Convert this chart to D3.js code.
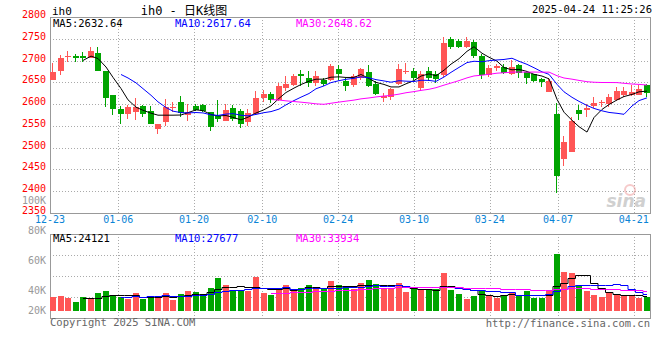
<!DOCTYPE html>
<html>
<head>
<meta charset="utf-8">
<script src="https://cdn.jsdelivr.net/npm/d3@7"></script>
<style>
  body { margin: 0; background: #fff; }
  svg text { font-family: "DejaVu Sans Mono", "Liberation Mono", monospace; font-size: 10px; }
</style>
</head>
<body>
<div id="app"></div>
<script>
// 日K数据 (12-23 ~ 04-23)
const opens  = [2655,2675,2708,2711,2711,2705,2718,2675,2620,2588, 2578,2582,2595,2584,2542,2558,2590,2605,2574,2595,
                2598,2582,2573,2562,2590,2584,2558,2578,2614,2623, 2610,2636,2645,2669,2660,2648,2656,2656,2680,2654,
                2645,2661,2673,2646,2613,2617,2646,2673,2677,2638, 2677,2668,2666,2750,2744,2730,2743,2711,2666,2683,
                2686,2668,2689,2673,2668,2658,2627,2577,2473,2490, 2586,2586,2595,2602,2600,2610,2622,2622,2622,2644];
const highs  = [2694,2712,2722,2715,2720,2732,2730,2677,2620,2595, 2598,2614,2598,2595,2554,2612,2605,2618,2600,2600,
                2600,2582,2610,2600,2599,2588,2588,2631,2633,2628, 2648,2664,2668,2679,2677,2677,2661,2692,2690,2661,
                2669,2683,2690,2652,2626,2637,2692,2694,2683,2675, 2685,2676,2753,2755,2750,2755,2748,2714,2690,2691,
                2691,2702,2691,2675,2670,2661,2661,2602,2527,2570, 2599,2600,2617,2609,2623,2639,2639,2645,2645,2646];
const lows   = [2655,2667,2696,2696,2696,2705,2676,2593,2575,2554, 2566,2563,2570,2555,2531,2550,2582,2570,2561,2584,
                2582,2539,2560,2561,2561,2546,2550,2576,2605,2603, 2606,2631,2641,2641,2639,2641,2641,2652,2656,2630,
                2639,2656,2639,2622,2605,2610,2645,2669,2655,2630, 2652,2648,2663,2727,2729,2729,2705,2658,2663,2675,
                2669,2666,2661,2646,2650,2640,2627,2395,2457,2489, 2563,2570,2592,2593,2593,2608,2617,2618,2620,2617];
const closes = [2673,2705,2711,2707,2705,2723,2677,2614,2588,2577, 2593,2593,2578,2555,2554,2593,2593,2580,2582,2586,
                2584,2548,2565,2586,2565,2555,2579,2613,2623,2610, 2641,2646,2664,2664,2648,2664,2646,2687,2668,2641,
                2664,2680,2641,2623,2618,2635,2680,2677,2660,2670, 2660,2658,2741,2730,2732,2745,2711,2666,2684,2687,
                2671,2686,2671,2660,2654,2651,2654,2436,2512,2561, 2578,2592,2603,2605,2617,2631,2631,2627,2635,2625];
const volumes = [23200,24900,21600,14900,23200,19400,29900,33200,26600,23200, 19900,29900,19900,24900,21600,29900,18300,28200,33200,31500,
                 28200,38200,54800,43200,34900,32700,33700,56900,29900,26600, 34900,43700,36500,38200,43200,36500,36500,49800,43200,38700,
                 36500,46500,51500,44800,36500,36500,46500,31500,36500,34900, 34900,36500,63100,34900,28200,19900,24900,34900,26600,21600,
                 24900,31500,24900,33200,21600,21600,33200,94600,64700,63100, 43200,33200,26600,23200,32000,28200,24900,24900,21600,23700];

// 刻度
const priceTicks = [2350,2400,2450,2500,2550,2600,2650,2700,2750,2800];
const dateLabels = ["12-23","01-06","01-20","02-10","02-24","03-10","03-24","04-07","04-21"];
const dateIndex  = [0,9,19,28,38,48,58,67,77];
const volLabels  = ["100K","80K","60K","40K","20K"];
const volLabelValues = [100000,80000,60000,40000,20000];

// 图例文字
const priceLegend = ["MA5:2632.64","MA10:2617.64","MA30:2648.62"];
const volLegend   = ["MA5:24121","MA10:27677","MA30:33934"];
const maPeriods   = [5,10,30];
const maColors    = ["#000","#00f","#f0f"];

const width = 660, height = 360,
      left = 50, right = 650,
      pTop = 17, pBottom = 213,
      vTop = 234, vBase = 311, vBottom = 318,
      red = "#ff5555", green = "#00a400", gridColor = "#aaa", axisColor = "#999";

const n = closes.length;

/* 比例尺 */
const xb = d3.scaleBand().domain(d3.range(n)).range([left, right]).paddingInner(0.2).paddingOuter(0);
const xg = d3.scaleLinear().domain([0, n - 1]).range([left, right - 1]);   // 日期网格
const yP = d3.scaleLinear().domain([2350, 2800]).range([pBottom, pTop]);
const yV = d3.scaleLinear().domain([0, 127800]).range([vBase, vTop]);
const yVLabel = d3.scaleLinear().domain([100000, 40000]).range([201, 291]);

const cx = i => Math.round(xb(i));
const bw = Math.round(xb.bandwidth());
const isUp = i => closes[i] >= opens[i];

function movingAvg(arr, p) {
  return arr.map((d, i) => i < p - 1 ? null : d3.mean(arr.slice(i - p + 1, i + 1)));
}

const svg = d3.select("#app").append("svg")
  .attr("width", width).attr("height", height)
  .style("display", "block");

/* 1. 网格 */
const grid = svg.append("g")
  .attr("stroke", gridColor).attr("stroke-dasharray", "1 2")
  .attr("shape-rendering", "crispEdges");

grid.selectAll("line.hp")
  .data(priceTicks.filter(v => v > 2350 && v < 2800))
  .enter().append("line")
  .attr("x1", left).attr("x2", right)
  .attr("y1", d => Math.round(yP(d)) + 0.5).attr("y2", d => Math.round(yP(d)) + 0.5);

const volGridY = d3.range(1, 4).map(k => Math.round(vTop + k * (vBottom - vTop) / 4) + 0.5);
grid.selectAll("line.hv")
  .data(volGridY)
  .enter().append("line")
  .attr("x1", left).attr("x2", right)
  .attr("y1", d => d).attr("y2", d => d);

dateIndex.slice(1).forEach(i => {
  const x = Math.round(xg(i)) + 0.5;
  grid.append("line").attr("x1", x).attr("x2", x).attr("y1", pTop).attr("y2", pBottom);
  grid.append("line").attr("x1", x).attr("x2", x).attr("y1", vTop).attr("y2", vBottom);
});

/* 2. 边框 */
const frame = svg.append("g").attr("fill", "none").attr("stroke", axisColor)
  .attr("shape-rendering", "crispEdges");
frame.append("rect").attr("x", left + 0.5).attr("y", pTop + 0.5)
  .attr("width", right - left).attr("height", pBottom - pTop);
frame.append("rect").attr("x", left + 0.5).attr("y", vTop + 0.5)
  .attr("width", right - left).attr("height", vBottom - vTop);

/* 3. 水印 */
const wm = svg.append("g").attr("opacity", 0.55);
wm.append("circle").attr("cx", 630).attr("cy", 190).attr("r", 5)
  .attr("fill", "none").attr("stroke", "#f0a0a0").attr("stroke-width", 2);
wm.append("text").attr("x", 646).attr("y", 207).attr("text-anchor", "end")
  .style("font-family", "DejaVu Sans").style("font-size", "17px")
  .style("font-style", "italic").style("font-weight", "bold")
  .attr("fill", "#aaa").text("sina");

/* 4. K线 */
const candles = svg.append("g").attr("shape-rendering", "crispEdges");
candles.selectAll("line")
  .data(d3.range(n))
  .enter().append("line")
  .attr("x1", i => cx(i) + 2.5).attr("x2", i => cx(i) + 2.5)
  .attr("y1", i => Math.round(yP(highs[i]))).attr("y2", i => Math.round(yP(lows[i])))
  .attr("stroke", i => isUp(i) ? red : green);
candles.selectAll("rect")
  .data(d3.range(n))
  .enter().append("rect")
  .attr("x", cx).attr("width", bw)
  .attr("y", i => Math.round(yP(Math.max(opens[i], closes[i]))))
  .attr("height", i => Math.max(1, Math.round(yP(Math.min(opens[i], closes[i]))) - Math.round(yP(Math.max(opens[i], closes[i])))))
  .attr("fill", i => isUp(i) ? red : green);

/* 5. 均线 */
maPeriods.forEach((p, k) => {
  const ma = movingAvg(closes, p);
  const line = d3.line()
    .defined(d => d[1] != null)
    .x(d => cx(d[0]) + 3)
    .y(d => yP(d[1]));
  svg.append("path")
    .datum(ma.map((v, i) => [i, v]))
    .attr("d", line)
    .attr("fill", "none").attr("stroke", maColors[k]).attr("stroke-width", 1);
});

/* 6. 成交量 */
svg.append("g").attr("shape-rendering", "crispEdges")
  .selectAll("rect")
  .data(d3.range(n))
  .enter().append("rect")
  .attr("x", cx).attr("width", bw)
  .attr("y", i => Math.round(yV(volumes[i])))
  .attr("height", i => vBase - Math.round(yV(volumes[i])))
  .attr("fill", i => isUp(i) ? red : green);

maPeriods.forEach((p, k) => {
  const ma = movingAvg(volumes, p);
  const line = d3.line()
    .defined(d => d[1] != null)
    .x(d => cx(d[0]) + 3)
    .y(d => Math.round(yV(d[1])) + 0.5)
    .curve(d3.curveStep);
  svg.append("path")
    .datum(ma.map((v, i) => [i, v]))
    .attr("d", line)
    .attr("fill", "none").attr("stroke", maColors[k]).attr("stroke-width", 1);
});

/* 7. 文字 */
svg.append("g").selectAll("text")
  .data(priceTicks)
  .enter().append("text")
  .attr("x", 46).attr("y", d => yP(d) - 2)
  .attr("text-anchor", "end").attr("dominant-baseline", "middle")
  .attr("fill", "#f00").text(d => d);

svg.append("g").selectAll("text")
  .data(volLabels)
  .enter().append("text")
  .attr("x", 46).attr("y", (d, i) => Math.min(yVLabel(volLabelValues[i]), vBase))
  .attr("text-anchor", "end").attr("dominant-baseline", "middle")
  .attr("fill", "#999").text(d => d);

svg.append("g").selectAll("text")
  .data(dateLabels)
  .enter().append("text")
  .attr("x", (d, i) => xg(dateIndex[i])).attr("y", 220)
  .attr("text-anchor", "middle").attr("dominant-baseline", "middle")
  .attr("fill", "#0a84d6").text(d => d);

const legendX = [53, 175, 296];
priceLegend.forEach((t, k) => {
  svg.append("text").attr("x", legendX[k]).attr("y", 23.5)
    .attr("dominant-baseline", "middle").style("font-size", "10.5px")
    .attr("fill", maColors[k]).text(t);
});
volLegend.forEach((t, k) => {
  svg.append("text").attr("x", legendX[k]).attr("y", 239)
    .attr("dominant-baseline", "middle").style("font-size", "10.5px")
    .attr("fill", maColors[k]).text(t);
});

svg.append("text").attr("x", 52).attr("y", 12)
  .attr("dominant-baseline", "middle").style("font-size", "11px").text("ih0");
svg.append("text").attr("x", 184).attr("y", 11)
  .attr("text-anchor", "middle").attr("dominant-baseline", "middle")
  .style("font-family", "'DejaVu Sans Mono', 'Noto Sans CJK SC'").style("font-size", "12px")
  .text("ih0 - 日K线图");
svg.append("text").attr("x", 652).attr("y", 10)
  .attr("text-anchor", "end").attr("dominant-baseline", "middle")
  .style("font-size", "10.5px").text("2025-04-24 11:25:26");

svg.append("text").attr("x", 50).attr("y", 323)
  .attr("dominant-baseline", "middle").style("font-size", "10.5px")
  .attr("fill", "#666").text("Copyright 2025 SINA.COM");
svg.append("text").attr("x", 650).attr("y", 324)
  .attr("text-anchor", "end").attr("dominant-baseline", "middle").style("font-size", "10.5px")
  .attr("fill", "#666").text("http://finance.sina.com.cn");
</script>
</body>
</html>
